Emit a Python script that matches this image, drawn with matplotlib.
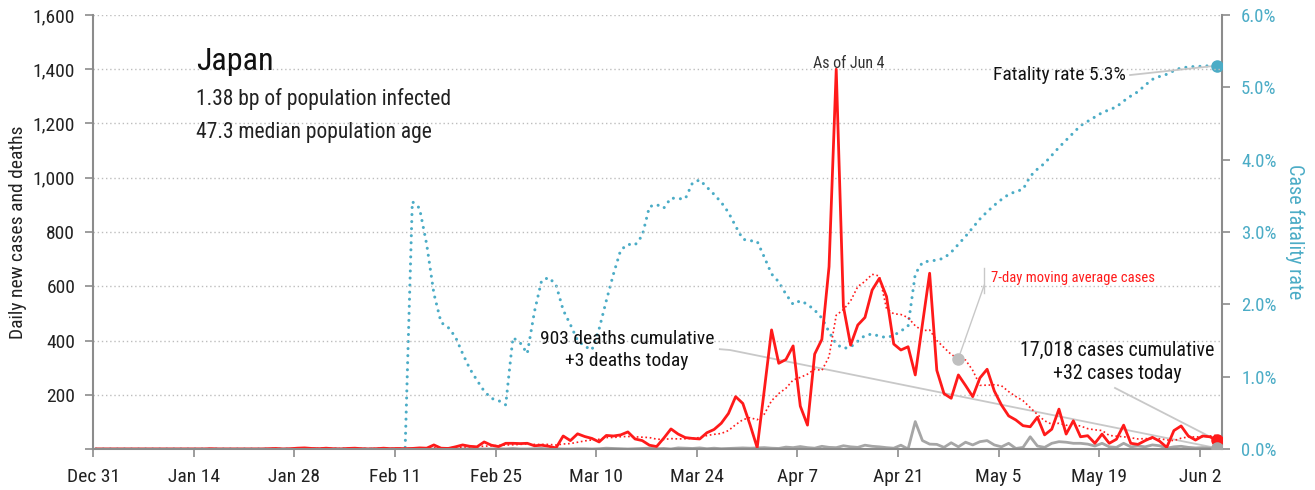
import matplotlib
matplotlib.use("Agg")
import matplotlib.pyplot as plt
import numpy as np
import pandas as pd
from matplotlib.ticker import FuncFormatter

plt.rcParams['font.family'] = ['Liberation Sans Narrow', 'Roboto Condensed', 'Open Sans Condensed',
                               'DejaVu Sans']
plt.rcParams['font.stretch'] = 'condensed'

# ---------------- data (day 0 = Dec 31, last = Jun 4) ----------------
tick_labels = ["Dec 31", "Jan 14", "Jan 28", "Feb 11", "Feb 25", "Mar 10", "Mar 24",
               "Apr 7", "Apr 21", "May 5", "May 19", "Jun 2"]

cases = [0]*16 + [1, 0, 0, 0, 0, 0, 0, 0, 1, 2, 0, 1, 3, 4, 2, 1, 3, 1, 0, 2, 3, 1, 0, 1, 3, 1, 2,
         1, 2, 4, 3] + [
    15, 3, 2, 8, 15, 10, 8, 26, 14, 9, 21, 21, 20, 21, 12, 14, 10, 4,
    48, 31, 56, 46, 39, 26, 50, 48, 52, 63, 37, 31, 14, 9,
    40, 74, 55, 42, 39, 37, 60, 72, 95, 131, 193, 168, 90, 5,
    220, 439, 316, 330, 380, 158, 88, 350, 404, 672, 1400,
    525, 383, 457, 485, 586, 629, 562, 387, 365, 377, 273, 460, 648,
    290, 204, 187, 273, 234, 193, 262, 294, 214, 162, 122, 107, 86, 82,
    117, 52, 73, 147, 55, 104, 45, 49, 21, 55, 21, 36, 88, 21, 17, 31, 43, 29, 6, 68, 85, 48,
    33, 48, 45, 32]

deaths = [0]*44 + [
    1, 0, 0, 0, 0, 1, 0, 0, 1, 0, 0, 0, 1, 0, 2, 0, 0, 1, 2, 0, 1, 0, 0, 1, 1, 0, 1, 3, 2, 1,
    0, 1, 2, 3, 1, 2, 0, 4, 3, 2, 4, 1, 3, 1, 2, 3, 4, 3, 4, 5, 3, 2, 7, 5, 9, 5, 3, 10, 6, 5,
    12, 8, 6, 14, 10,
    8, 5, 3, 14, 0, 101, 31, 18, 17, 6, 23, 8, 25, 15, 27, 31, 15, 8, 21, 2, 6, 45, 11, 6, 21,
    27, 25, 21, 21, 18, 11, 21, 8, 6, 21, 8, 11, 8, 15, 12, 3, 8, 10, 6, 4, 5, 3, 3]

fatality_rate = [0.0]*44 + [
    3.42, 3.33, 2.83, 2.15, 1.75, 1.68, 1.55, 1.32, 1.11, 0.95, 0.80, 0.70, 0.67, 0.61,
    1.54, 1.47, 1.32, 1.90, 2.33, 2.37, 2.27, 1.92, 1.72, 1.50, 1.42, 1.37, 1.66, 2.05,
    2.42, 2.75, 2.83, 2.82, 2.95, 3.35, 3.38, 3.33, 3.47, 3.46, 3.46, 3.68, 3.72, 3.62,
    3.52, 3.41, 3.27, 3.08, 2.90, 2.88, 2.87, 2.65, 2.42, 2.31, 2.14, 2.00, 2.05, 2.00,
    1.92, 1.81, 1.62, 1.45, 1.39, 1.41, 1.49, 1.57, 1.59, 1.56, 1.54, 1.57, 1.63, 1.70,
    2.42, 2.58, 2.60, 2.61, 2.64, 2.72, 2.83, 2.94, 3.06, 3.18, 3.28, 3.37, 3.45, 3.52,
    3.56, 3.59, 3.77, 3.87, 3.95, 4.06, 4.17, 4.27, 4.37, 4.47, 4.53, 4.59, 4.65, 4.69,
    4.73, 4.81, 4.88, 4.94, 5.03, 5.11, 5.15, 5.18, 5.23, 5.27, 5.28, 5.29, 5.29, 5.30, 5.30]

n = len(cases)
days = np.arange(n) + 0.4
ma7 = pd.Series(cases, dtype=float).rolling(7).mean().values

RED = '#ff1a1a'
TEAL = '#4bacc6'
GRAY = '#a6a6a6'
SPINE = '#8c8c8c'
LEAD = '#c8c8c8'

fig = plt.figure(figsize=(13.15, 4.9), dpi=100)
ax = fig.add_axes([93.3/1315, 41/490, (1221.7-93.3)/1315, 434/490])
ax2 = ax.twinx()
ax.set_zorder(2)
ax.patch.set_visible(False)

# fatality rate (right axis)
ax2.plot(days, fatality_rate, color=TEAL, lw=2.2, linestyle=(0, (0.01, 2.3)),
         dash_capstyle='round')
ax2.set_ylim(0, 6)
ax2.set_yticks(np.arange(0, 7, 1))
ax2.yaxis.set_major_formatter(FuncFormatter(lambda v, p: f"{v:.1f}%"))
ax2.tick_params(axis='y', colors=SPINE, labelcolor=TEAL, labelsize=13.5, length=6, width=1.2, pad=8)
for s in ['top', 'left', 'bottom']:
    ax2.spines[s].set_visible(False)
ax2.spines['right'].set_color(SPINE)
ax2.spines['right'].set_linewidth(1.5)
ax2.set_ylabel("Case fatality rate", color=TEAL, fontsize=14.5, rotation=270, labelpad=20)
ax2.plot(days[-1], fatality_rate[-1], 'o', color=TEAL, ms=8, zorder=5)

# cases / deaths (left axis)
ax.plot(days, deaths, color=GRAY, lw=2.0, solid_joinstyle='round')
ax.plot(days, ma7, color=RED, lw=1.2, linestyle=(0, (1, 1.6)))
ax.plot(days, cases, color=RED, lw=2.0, solid_joinstyle='round')
ax.plot(days[-1], cases[-1], 'o', color=RED, ms=8, zorder=6)
ax.plot(days[-1], deaths[-1], 'o', color=GRAY, ms=8, zorder=6)

ax.set_xlim(0, 157.05)
ax.set_ylim(0, 1600)
ax.set_yticks(np.arange(0, 1601, 200))
ax.yaxis.set_major_formatter(FuncFormatter(lambda v, p: "" if v == 0 else f"{int(v):,}"))
ax.set_xticks(np.arange(0, 14*len(tick_labels), 14))
ax.set_xticklabels(tick_labels)
ax.tick_params(axis='y', colors=SPINE, labelcolor='#222222', labelsize=14, length=6, width=1.2, pad=7)
ax.tick_params(axis='x', colors=SPINE, labelcolor='#222222', labelsize=14, length=6, width=1.2, pad=8)
ax.yaxis.grid(True, linestyle=(0, (1, 2)), color='#bdbdbd', lw=1)
ax.set_axisbelow(True)
for s in ['top', 'right']:
    ax.spines[s].set_visible(False)
for s in ['left', 'bottom']:
    ax.spines[s].set_color(SPINE)
    ax.spines[s].set_linewidth(1.5)
ax.set_ylabel("Daily new cases and deaths", fontsize=14, color='#222222', labelpad=4)

# ---------------- text ----------------
ax.text(14.3, 1427, "Japan", fontsize=23, color='#111111', va='center', ha='left')
ax.text(14.3, 1290, "1.38 bp of population infected", fontsize=15.5, color='#222222', va='center')
ax.text(14.3, 1167, "47.3 median population age", fontsize=15.5, color='#222222', va='center')

ax.text(105.2, 1420, "As of Jun 4", fontsize=11.5, color='#333333', ha='center', va='center')

ax.text(74.3, 365, "903 deaths cumulative\n+3 deaths today", fontsize=14, color='#111111',
        ha='center', va='center', multialignment='center', linespacing=1.3)
ax.plot([87.2, 88.6, days[-1]], [368, 365, deaths[-1]], color=LEAD, lw=1.3, zorder=1)

ax.text(142.5, 321, "17,018 cases cumulative\n+32 cases today", fontsize=14.3, color='#111111',
        ha='center', va='center', multialignment='center', linespacing=1.3)
ax.plot([142.2, days[-1]], [225, cases[-1]], color=LEAD, lw=1.3, zorder=1)

ax2.text(143.7, 5.17, "Fatality rate 5.3%", fontsize=14, color='#111111', ha='right', va='center')
ax2.plot([144.3, days[-1]], [5.17, fatality_rate[-1]], color=LEAD, lw=1.3)

ax.text(124.9, 631, "7-day moving average cases", fontsize=10.5, color=RED, ha='left', va='center')
ax.plot([124.0, 124.0], [667, 575], color=LEAD, lw=1.0)
ax.plot([124.0, days[120]], [604, ma7[120]], color=LEAD, lw=1.0)
ax.plot(days[120], ma7[120], 'o', color='#bfbfbf', ms=8, zorder=6)

fig.savefig("out.png", dpi=100)
